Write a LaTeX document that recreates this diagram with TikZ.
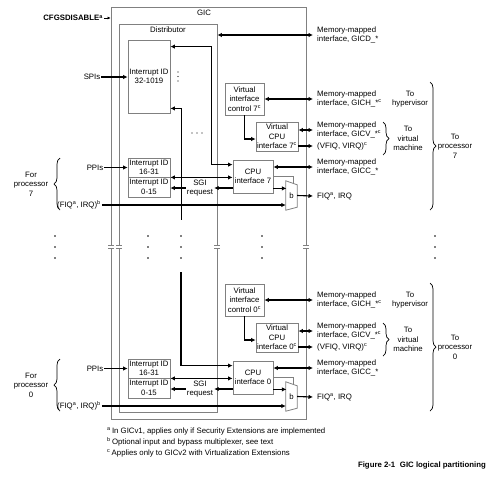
\documentclass[tikz,border=0pt]{standalone}
\usepackage{fontspec}
\setmainfont{Liberation Sans}
\usetikzlibrary{arrows.meta,decorations.pathreplacing}
\newcommand{\gicfont}{\fontsize{7.8}{9.5}\selectfont}

\begin{document}
\begin{tikzpicture}[x=1pt, y=-1pt, >={Latex[length=4.5pt,width=4.5pt]},
  font=\gicfont,
  every node/.style = {align=center, inner sep=1pt},
  frame/.style = {draw=gray, line width=0.8pt},
  box/.style = {frame, inner sep=0pt},
  lbl/.style = {anchor=west, align=left, inner xsep=4pt, inner ysep=0pt},
  link/.style = {line width=1.1pt}]
  \tikzstyle{brc}=[decorate, decoration={brace, amplitude=6pt}, line width=0.7pt]
  \tikzstyle{bypass}=[draw=gray, line width=0.6pt]

  \useasboundingbox (0,0) rectangle (500,485);

  % GIC and distributor
  \node[box, minimum width=195pt, minimum height=412pt] (gic) at (208.5,213) {};
  \node (gicname) at (204,13) {GIC};
  \node[box, minimum width=98pt, minimum height=388pt] (dist) at (168,218) {};
  \node (distname) at (168,30) {Distributor};
  \node[box, minimum width=42pt, minimum height=73pt] (spi) at (149,76.5) {Interrupt ID\\32-1019};

  \node[anchor=east, font={\gicfont\bfseries}] (cfg) at (104,18) {CFGSDISABLE\textsuperscript{a}};
  \draw[->, >={Latex[length=3pt,width=3pt]}, line width=0.6pt] (cfg.east) -- (cfg.east -| gic.west);

  \node (spis) at (92,77) {SPIs};
  \draw[->, link] (spis.east) -- (spis.east -| spi.west);

  \node[lbl] (gicd) at (313,35) {Memory-mapped\\interface, GICD\_*};
  \draw[<->, link] (dist.east |- gicd.west) -- (gicd.west);

  % one slice per processor
  \foreach \n/\dy in {7/0,0/201}{
  \begin{scope}[shift={(0,\dy)}]
    \node[box, minimum width=42pt, minimum height=19pt] (ppi\n) at (149,167.5) {Interrupt ID\\16-31};
    \node[box, minimum width=42pt, minimum height=20pt] (sgi\n) at (149,187) {Interrupt ID\\0-15};
    \node[box, minimum width=40pt, minimum height=33pt] (cpu\n) at (253,176.5) {CPU\\interface \n};
    \node[box, minimum width=39pt, minimum height=32pt] (vic\n) at (244.5,99) {Virtual\\interface\\control \n\textsuperscript{c}};
    \node[box, minimum width=42pt, minimum height=29pt] (vcpu\n) at (277,136.5) {Virtual\\CPU\\interface \n\textsuperscript{c}};
    \node[minimum width=11pt, minimum height=29pt, inner sep=0pt] (mux\n) at (291.5,195.5) {b};
    \draw[frame] (mux\n.north west) -- ([yshift=-4pt]mux\n.north east)
      -- ([yshift=3pt]mux\n.south east) -- (mux\n.south west) -- cycle;

    % inputs
    \node (ppis\n) at (95,167.5) {PPIs};
    \draw[->, link] (ppis\n.east) -- (ppis\n.east -| ppi\n.west);
    \node (for\n) at (31,184) {For\\processor\\\n};
    \draw[brc] (60,210) -- (60,158);
    \node[anchor=west] (irq\n) at (56,205) {(FIQ\textsuperscript{a}, IRQ)\textsuperscript{b}};
    \draw[->, link] (irq\n.east) -- (irq\n.east -| mux\n.west);

    % inside
    \draw[<->, link] (ppi\n.south east) -- (ppi\n.south east -| cpu\n.west);
    \node (req\n) at (200,188) {SGI\\request};
    \draw[->, link] (req\n.east -| cpu\n.west) -- (req\n.east);
    \draw[->, link] (req\n.west) -- (req\n.west -| sgi\n.east);
    \draw[->, link] (vic\n) |- ([yshift=-2.5pt]vcpu\n.west);
    \draw[->, link] ([yshift=5pt]cpu\n.south east) -- ++(13,0);
    \draw[bypass] (cpu\n.east) -| ([xshift=1.5pt, yshift=-2.5pt]mux\n.north);

    % outputs
    \node[lbl] (gich\n) at (313,99) {Memory-mapped\\interface, GICH\_*\textsuperscript{c}};
    \draw[<->, link] (vic\n.east) -- (gich\n.west);
    \node[lbl] (gicv\n) at (313,130) {Memory-mapped\\interface, GICV\_*\textsuperscript{c}};
    \draw[<->, link] (gicv\n.west -| vcpu\n.east) -- (gicv\n.west);
    \node[lbl] (vfiq\n) at (313,146) {(VFIQ, VIRQ)\textsuperscript{c}};
    \draw[->, link] (vfiq\n.west -| vcpu\n.east) -- (vfiq\n.west);
    \node[lbl] (gicc\n) at (313,167) {Memory-mapped\\interface, GICC\_*};
    \draw[<->, link] (gicc\n.west -| cpu\n.east) -- (gicc\n.west);
    \node[lbl] (fiq\n) at (313,196) {FIQ\textsuperscript{a}, IRQ};
    \draw[->, link] (mux\n.east) -- (fiq\n.west);

    \node (hyp\n) at (410,99) {To\\hypervisor};
    \draw[brc] (383,122) -- (383,155);
    \node (vm\n) at (408,138.5) {To\\virtual\\machine};
    \draw[brc] (430,82) -- (430,210);
    \node (proc\n) at (455,146) {To\\processor\\\n};
  \end{scope}
  }

  % distributor to CPU interfaces
  \draw[<->, link] ([yshift=-7pt]spi.north east) -- ++(41,0) |- ([yshift=-5pt]cpu7.north west);
  \draw[<-, link] ([yshift=5pt]spi.south east) -- ++(11,0) -- ++(0,112);
  \coordinate (brk) at (181,272);
  \draw[->, link] (brk) |- ([yshift=-5pt]cpu0.north west);

  % dots and breaks
  \foreach \y in {72,76.5,81} \fill (178,\y) circle[radius=0.7pt];
  \foreach \x in {192,197,202} \fill (\x,133) circle[radius=0.7pt];
  \foreach \x in {55,148,181,262,435}
    \foreach \y in {236,247,258} \fill (\x,\y) circle[radius=0.8pt];
  \foreach \x in {111,119,217,306} {
    \fill[white] (\x-3,245.5) rectangle (\x+3,248);
    \draw[gray, line width=0.5pt] (\x-3,245.5) -- (\x+3,245.5) (\x-3,248) -- (\x+3,248);
  }

  % notes
  \node[anchor=west, align=left, font={\fontsize{7.8}{11}\selectfont}] (notes) at (106,442)
    {\textsuperscript{a}\,In GICv1, applies only if Security Extensions are implemented\\
     \textsuperscript{b}\,Optional input and bypass multiplexer, see text\\
     \textsuperscript{c}\,Applies only to GICv2 with Virtualization Extensions};
  \node[anchor=east, font={\gicfont\bfseries}] (caption) at (487,465) {Figure 2-1\hspace{0.6em}GIC logical partitioning};
\end{tikzpicture}
\end{document}
